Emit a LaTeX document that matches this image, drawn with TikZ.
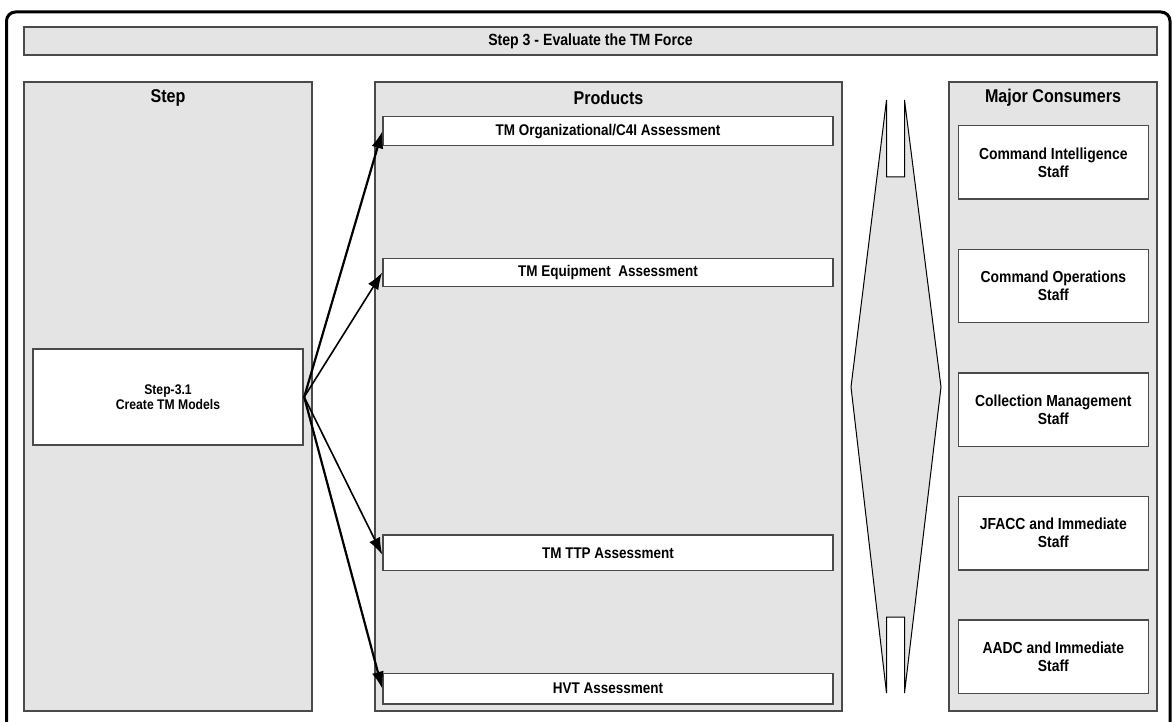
\documentclass[tikz,border=0pt]{standalone}
\usepackage{fontspec}
\setmainfont[FakeStretch=0.87]{Liberation Sans}
\usetikzlibrary{arrows.meta}
\definecolor{colfill}{HTML}{E4E4E4}
\definecolor{edge}{HTML}{4A4A4A}
\tikzset{
  colbox/.style={draw=edge, line width=1.3pt, fill=colfill, inner sep=0pt},
  whitebox/.style={draw=edge, line width=1.4pt, fill=white, inner sep=0pt, align=center, font=\bfseries\fontsize{16}{18}\selectfont},
  prodbox/.style={whitebox, minimum width=450pt, font=\bfseries\fontsize{15.5}{18}\selectfont},
  consbox/.style={whitebox, minimum width=190pt, minimum height=73.3pt},
  header/.style={font=\bfseries\fontsize{18.5}{21}\selectfont, inner sep=0pt},
  flow/.style={-{Latex[length=17pt,width=12pt]}, line width=2.2pt, black},
  flowthin/.style={flow, line width=1.6pt}
}
\begin{document}
\begin{tikzpicture}[x=1pt,y=-1pt]
\useasboundingbox (0,0) rectangle (1173,722);
\fill[white] (0,0) rectangle (1173,722);
% outer frame
\draw[line width=3pt, rounded corners=9pt] (6.5,760) -- (6.5,12) -- (1170,12) -- (1170,760);
% title bar
\node[colbox, minimum width=1133pt, minimum height=28pt, font=\bfseries\fontsize{16.2}{18}\selectfont] (title) at (590.5,41) {Step 3 - Evaluate the TM Force};
% columns
\node[colbox, minimum width=288pt, minimum height=629pt] (stepcol) at (168,396.5) {};
\node[colbox, minimum width=467pt, minimum height=629pt] (prodcol) at (608.5,396.5) {};
\node[colbox, minimum width=208pt, minimum height=629pt] (conscol) at (1053,396.5) {};
\node[header] (hstep) at (168,98) {Step};
\node[header] (hprod) at (608.5,98) {Products};
\node[header] (hcons) at (1053,98) {Major Consumers};
% step box
\node[whitebox, minimum width=270pt, minimum height=96pt, font=\bfseries\fontsize{14}{15}\selectfont] (s31) at (168,397) {Step-3.1\\Create TM Models};
% product boxes
\node[prodbox, minimum height=29pt] (p1) at (608,131.2) {TM Organizational/C4I Assessment};
\node[prodbox, minimum height=28.4pt] (p2) at (608,272.5) {TM Equipment~ Assessment};
\node[prodbox, minimum height=35.7pt] (p3) at (608,552.8) {TM TTP Assessment};
\node[prodbox, minimum height=30.7pt] (p4) at (608,688.7) {HVT Assessment};
% consumer boxes
\node[consbox] (c1) at (1053.3,162.4) {Command Intelligence\\Staff};
\node[consbox] (c2) at (1053.3,286) {Command Operations\\Staff};
\node[consbox] (c3) at (1053.3,409.6) {Collection Management\\Staff};
\node[consbox] (c4) at (1053.3,533.2) {JFACC and Immediate\\Staff};
\node[consbox] (c5) at (1053.3,656.8) {AADC and Immediate\\Staff};
% double-headed connector shape
\draw[fill=colfill, line width=1pt] (886.5,100) -- (886.5,177) -- (904.5,177) -- (904.5,100)
  -- (941,387) -- (904.5,693) -- (904.5,617) -- (886.5,617) -- (886.5,693) -- (851,387) -- cycle;
% arrows
\coordinate (src) at ([xshift=0.5pt]s31.east);
\draw[flow] (src) -- (p1.west);
\draw[flowthin] (src) -- (p2.west);
\draw[flowthin] (src) -- ([yshift=-2pt]p3.west);
\draw[flow] (src) -- (p4.west);
\end{tikzpicture}
\end{document}
